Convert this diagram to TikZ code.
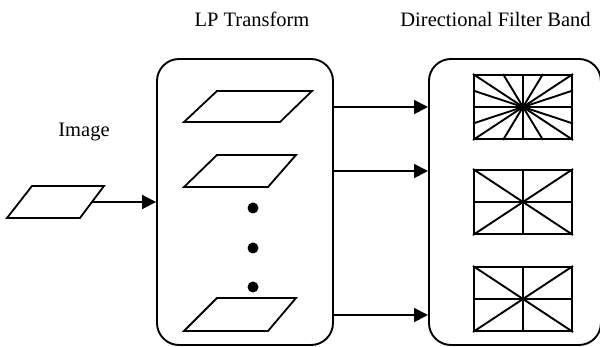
\documentclass[tikz,border=0pt]{standalone}
\usepackage{fontspec}
\setmainfont{Liberation Serif}
\usetikzlibrary{arrows.meta,calc}
\begin{document}
\begin{tikzpicture}[x=1pt,y=-1pt,
  box/.style={draw,line width=1.9pt,rounded corners=22pt,inner sep=0pt},
  para/.style={draw,line width=1.8pt,line join=miter},
  filt/.style={draw,line width=2pt,minimum width=98pt,minimum height=64pt,inner sep=0pt},
  fl/.style={line width=1.9pt},
  arr/.style={line width=1.9pt,-{Triangle[length=14pt,width=14pt]}},
  lbl/.style={font=\fontsize{20.5}{24}\selectfont,anchor=base,inner sep=0pt},
  dot/.style={circle,fill=black,minimum size=11pt,inner sep=0pt}]
\useasboundingbox (0,0) rectangle (600,347);
% labels
\node[lbl] (tlp) at (252,27) {LP Transform};
\node[lbl] (tdfb) at (495.5,27) {Directional Filter Band};
\node[lbl] (timg) at (84,137) {Image};
% boxes
\node[box,minimum width=176pt,minimum height=286pt] (lp) at (245,202) {};
\node[box,minimum width=172pt,minimum height=286pt,anchor=west] (dfb) at (428,202) {};
% input image
\draw[para] (32,186) -- (104,186) -- (80,218) -- (7,218) -- cycle;
\coordinate (imgR) at (92,202);
\draw[arr] (imgR) -- (lp.west);
% LP parallelograms
\draw[para] (217,91) -- (312,91) -- (280,122) -- (184,122) -- cycle;
\draw[para] (217,155) -- (296,155) -- (268,187) -- (184,187) -- cycle;
\draw[para] (217,298) -- (296,298) -- (268,331) -- (184,331) -- cycle;
\node[dot] (d1) at (253,208) {};
\node[dot] (d2) at (253,248) {};
\node[dot] (d3) at (253,287) {};
% filters
\node[filt] (f1) at (523,107) {};
\node[filt] (f2) at (523,202) {};
\node[filt] (f3) at (523,299) {};
\foreach \f in {f1,f2,f3}{
  \draw[fl] (\f.north west) -- (\f.south east);
  \draw[fl] (\f.south west) -- (\f.north east);
  \draw[fl] (\f.west) -- (\f.east);
  \draw[fl] (\f.north) -- (\f.south);
}
\draw[fl] ($(f1.north west)!0.25!(f1.south west)$) -- ($(f1.south east)!0.25!(f1.north east)$);
\draw[fl] ($(f1.north west)!0.75!(f1.south west)$) -- ($(f1.south east)!0.75!(f1.north east)$);
\draw[fl] ($(f1.north west)!0.3!(f1.north east)$) -- ($(f1.south east)!0.3!(f1.south west)$);
\draw[fl] ($(f1.north west)!0.7!(f1.north east)$) -- ($(f1.south east)!0.7!(f1.south west)$);
% arrows LP -> DFB
\coordinate (y1) at (0,107);
\coordinate (y2) at (0,171);
\coordinate (y3) at (0,315);
\draw[arr] (lp.east |- y1) -- (dfb.west |- y1);
\draw[arr] (lp.east |- y2) -- (dfb.west |- y2);
\draw[arr] (lp.east |- y3) -- (dfb.west |- y3);
\end{tikzpicture}
\end{document}
